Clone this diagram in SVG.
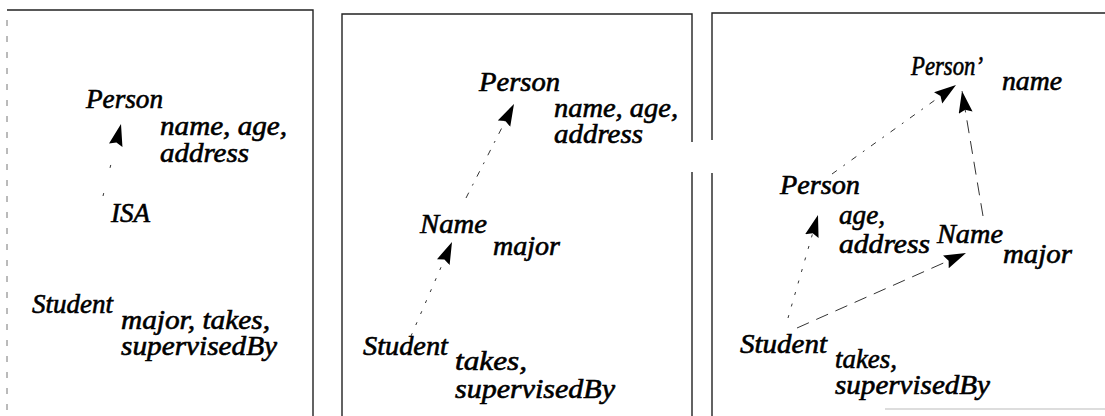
<svg xmlns="http://www.w3.org/2000/svg" width="1105" height="416" viewBox="0 0 1105 416">
  <style>
    .t { font-family: "Liberation Serif", "Times New Roman", serif; font-style: italic; font-size: 27px; fill: #000; stroke: #000; stroke-width: 0.6; }
    .frame { stroke: #222; stroke-width: 1.4; fill: none; }
    .faint { stroke: #777; stroke-width: 1; fill: none; stroke-dasharray: 6 10; }
    .edge { stroke: #333; stroke-width: 1; fill: none; marker-end: url(#head); }
    .dot { stroke-dasharray: 3 9; }
    .dotdash { stroke-dasharray: 6 8 2 8; }
    .dash { stroke-dasharray: 13 8; }
    .sparse { stroke-dasharray: 3 26; }
  </style>
  <defs>
    <marker id="head" markerUnits="userSpaceOnUse" markerWidth="24" markerHeight="16" refX="22" refY="7" orient="auto">
      <path d="M0,0 L22,7 L0,14 L3,7 z" fill="#000"/>
    </marker>
  </defs>
  <rect width="1105" height="416" fill="#fff"/>

  <!-- panel frames -->
  <g id="frames">
    <path class="faint" d="M7,20 V416"/>
    <path class="frame" d="M7,10 H313 V416"/>
    <path class="frame" d="M342,416 V14 H692 V142 M692,172 V416"/>
    <path class="frame" d="M712,416 V173 M712,140 V13 H1105"/>
    <path stroke="#bbb" stroke-width="1.2" fill="none" d="M885,409 H1105"/>
  </g>

  <!-- connectors -->
  <g id="connectors">
    <path class="edge sparse" d="M103,196 L121,124"/>
    <path class="edge dotdash" d="M466,198 L514,104"/>
    <path class="edge dot" d="M411,336 L452,242"/>
    <path class="edge dotdash" d="M832,174 L956,85"/>
    <path class="edge dash" d="M983,216 L962,91"/>
    <path class="edge dot" d="M788,318 L818,215"/>
    <path class="edge dash" d="M797,328 L966,253"/>
  </g>

  <!-- left panel -->
  <g id="p1-person"><text class="t" x="86" y="108" textLength="77" lengthAdjust="spacingAndGlyphs">Person</text></g>
  <g id="p1-person-attrs">
    <text class="t" x="160" y="135" textLength="127" lengthAdjust="spacingAndGlyphs">name, age,</text>
    <text class="t" x="160" y="162" textLength="89" lengthAdjust="spacingAndGlyphs">address</text>
  </g>
  <g id="p1-isa"><text class="t" x="111" y="222" textLength="39" lengthAdjust="spacingAndGlyphs">ISA</text></g>
  <g id="p1-student"><text class="t" x="32" y="313" textLength="81" lengthAdjust="spacingAndGlyphs">Student</text></g>
  <g id="p1-student-attrs">
    <text class="t" x="121" y="329" textLength="149" lengthAdjust="spacingAndGlyphs">major, takes,</text>
    <text class="t" x="121" y="355" textLength="156" lengthAdjust="spacingAndGlyphs">supervisedBy</text>
  </g>

  <!-- middle panel -->
  <g id="p2-person"><text class="t" x="479" y="91" textLength="81" lengthAdjust="spacingAndGlyphs">Person</text></g>
  <g id="p2-person-attrs">
    <text class="t" x="554" y="117" textLength="124" lengthAdjust="spacingAndGlyphs">name, age,</text>
    <text class="t" x="554" y="143" textLength="89" lengthAdjust="spacingAndGlyphs">address</text>
  </g>
  <g id="p2-name"><text class="t" x="420" y="233" textLength="67" lengthAdjust="spacingAndGlyphs">Name</text></g>
  <g id="p2-name-attrs"><text class="t" x="493" y="255" textLength="67" lengthAdjust="spacingAndGlyphs">major</text></g>
  <g id="p2-student"><text class="t" x="363" y="355" textLength="85" lengthAdjust="spacingAndGlyphs">Student</text></g>
  <g id="p2-student-attrs">
    <text class="t" x="455" y="370" textLength="72" lengthAdjust="spacingAndGlyphs">takes,</text>
    <text class="t" x="455" y="398" textLength="160" lengthAdjust="spacingAndGlyphs">supervisedBy</text>
  </g>

  <!-- right panel -->
  <g id="p3-person-prime"><text class="t" x="911" y="75" textLength="72" lengthAdjust="spacingAndGlyphs">Person’</text></g>
  <g id="p3-person-prime-attrs"><text class="t" x="1002" y="90" textLength="60" lengthAdjust="spacingAndGlyphs">name</text></g>
  <g id="p3-person"><text class="t" x="780" y="194" textLength="80" lengthAdjust="spacingAndGlyphs">Person</text></g>
  <g id="p3-person-attrs">
    <text class="t" x="839" y="224" textLength="46" lengthAdjust="spacingAndGlyphs">age,</text>
    <text class="t" x="839" y="253" textLength="91" lengthAdjust="spacingAndGlyphs">address</text>
  </g>
  <g id="p3-name"><text class="t" x="937" y="243" textLength="66" lengthAdjust="spacingAndGlyphs">Name</text></g>
  <g id="p3-name-attrs"><text class="t" x="1003" y="263" textLength="69" lengthAdjust="spacingAndGlyphs">major</text></g>
  <g id="p3-student"><text class="t" x="740" y="353" textLength="87" lengthAdjust="spacingAndGlyphs">Student</text></g>
  <g id="p3-student-attrs">
    <text class="t" x="835" y="368" textLength="62" lengthAdjust="spacingAndGlyphs">takes,</text>
    <text class="t" x="835" y="394" textLength="155" lengthAdjust="spacingAndGlyphs">supervisedBy</text>
  </g>
</svg>
